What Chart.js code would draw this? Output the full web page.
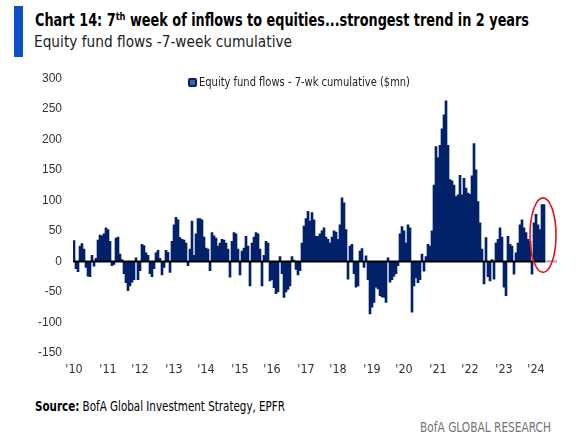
<!DOCTYPE html>
<html>
<head>
<meta charset="utf-8">
<script src="https://cdn.jsdelivr.net/npm/chart.js@4.4.1/dist/chart.umd.min.js"></script>
<style>
  body { margin: 0; width: 579px; height: 439px; background: #fff; position: relative; overflow: hidden;
         font-family: "DejaVu Sans Condensed", "Liberation Sans", sans-serif; }
  .txt { position: absolute; white-space: nowrap; transform-origin: 0 0; }
  .accent { position: absolute; left: 14px; top: 6px; width: 9px; height: 51px; background: #0b52c9; }
  .title { left: 35px; top: 12.2px; font-size: 17px; line-height: 17px; font-weight: bold; color: #000; }
  .title sup { font-size: 11px; line-height: 0; vertical-align: 6px; }
  .subtitle { left: 34px; top: 34.6px; font-size: 15px; line-height: 15px; color: #222; }
  .marker { position: absolute; left: 188px; top: 78px; width: 5px; height: 5px; background: #3d63ad; border: 2px solid #012169; border-radius: 2px; }
  .legend { left: 199px; top: 77px; font-size: 11.5px; line-height: 11.5px; color: #222; }
  .source { left: 35px; top: 400.4px; font-size: 13.5px; line-height: 13.5px; color: #000; }
  .brand { left: 420px; top: 421.4px; font-size: 13.5px; line-height: 13.5px; color: #757575; }
  .wrap { position: absolute; left: 0; top: 60px; width: 579px; height: 323px; }
</style>
</head>
<body>
<div class="accent"></div>
<div class="txt title" data-fit="494">Chart 14: 7<sup>th</sup> week of inflows to equities...strongest trend in 2 years</div>
<div class="txt subtitle" data-fit="258">Equity fund flows -7-week cumulative</div>
<div class="wrap"><canvas id="flowChart"></canvas></div>
<div class="marker"></div>
<div class="txt legend" data-fit="211" id="legendText"></div>
<div class="txt source" data-fit="250"><b>Source:</b> BofA Global Investment Strategy, EPFR</div>
<div class="txt brand" data-fit="131">BofA GLOBAL RESEARCH</div>
<script>
// equity fund flows, 7-week cumulative ($mn) at roughly 3-week steps
const flows2010_2012 = [34, -12, -17, 25, 29, 20, -10, -24, -25, 10,
  -8, 5, 35, 43, 42, 45, 55, 52, 33, -7,
  -5, 38, 40, 12, 3, -20, -35, -48, -40, -34,
  -30, 6, -30, -15, 28, 26, 14, 10, -20, -25];
const flows2013_2015 = [-12, 14, 18, 5, -22, -10, 18, 15, -18, 33,
  60, 72, 68, 39, 36, 35, 30, -7, 20, 66,
  10, 45, 70, 70, 68, 40, 22, 20, -15, 47,
  42, 38, 25, 30, 36, 35, 30, 20, -26, 33];
const flows2016_2018 = [47, 45, 20, -22, 17, 22, 41, 25, -40, 30,
  40, 47, 45, 20, -40, 10, 33, 30, -32, -30,
  -43, -53, -50, 8, -20, -59, -50, -46, -40, 8,
  2, -13, -22, -15, 30, 58, 70, 82, 66, 80,
  68, 41, 41, 45, 50, 55, 40, 36, 30, 40,
  50, 48, 36, 60, 104, 96, 52, -29, 25, 28];
const flows2019_2021 = [-20, -42, -40, 17, 21, -10, 9, -30, -86, -75,
  -67, -42, -45, -56, -58, -59, -67, 6, -34, -30,
  -24, -20, -7, 45, 57, 50, 30, 60, 55, -83,
  -40, -27, -35, -30, 12, -16, 8, 28, 25, 50,
  125, 188, 170, 190, 217, 240, 263, 190, 134, 132,
  125, 106, 109, 141, 109, 136, 120, 112, 110, 140];
const flows2022_2024 = [193, 150, 98, 63, 20, -37, 39, -25, -32, 3,
  -29, 30, 36, 55, 40, -42, -56, 41, 28, 25,
  -21, 14, 30, 60, 68, 55, 47, 36, 33, -21,
  63, 77, 60, 52, 93, 93];
const flows = [].concat(flows2010_2012, flows2013_2015, flows2016_2018, flows2019_2021, flows2022_2024);

const yearLabels = ["'10", "'11", "'12", "'13", "'14", "'15", "'16", "'17", "'18", "'19", "'20", "'21", "'22", "'23", "'24"];
const seriesName = "Equity fund flows - 7-wk cumulative ($mn)";

document.getElementById("legendText").textContent = seriesName;

// squeeze the html text to the widths of the condensed font used in the original
document.querySelectorAll("[data-fit]").forEach(el => {
  const w = +el.dataset.fit;
  el.style.transform = "scaleX(" + (w / el.getBoundingClientRect().width) + ")";
});

// one slot is ~3 weeks, so a year is ~16.5 slots; a few empty slots after the series
const tailPad = 6, slotsPerYear = 16.53;
const values = flows.concat(Array(tailPad).fill(null));
const labels = values.map(() => "");
yearLabels.forEach((t, k) => { labels[Math.round(k * slotsPerYear)] = t; });

const lastIdx = flows.length - 1;

const overlay = {
  id: "overlay",
  afterDatasetsDraw(chart) {
    const { ctx, chartArea, scales: { x, y } } = chart;
    const half = (x.getPixelForValue(1) - x.getPixelForValue(0)) / 2;
    const y0 = y.getPixelForValue(0);
    const xs = x.getPixelForValue(0) - half;
    const xe = x.getPixelForValue(lastIdx) + half;
    ctx.save();
    ctx.lineWidth = 2;
    ctx.strokeStyle = "#a6a6a6";
    ctx.beginPath(); ctx.moveTo(xe, y0); ctx.lineTo(chartArea.right, y0); ctx.stroke();
    ctx.strokeStyle = "#000";
    ctx.beginPath(); ctx.moveTo(xs, y0); ctx.lineTo(xe, y0); ctx.stroke();
    // red ring round the latest weeks
    const l = x.getPixelForValue(lastIdx - 7), r = x.getPixelForValue(lastIdx + 6);
    const t = y.getPixelForValue(104), b = y.getPixelForValue(-18);
    ctx.strokeStyle = "#e3141b";
    ctx.lineWidth = 1.6;
    ctx.beginPath();
    ctx.ellipse((l + r) / 2, (t + b) / 2, (r - l) / 2, (b - t) / 2, 0, 0, Math.PI * 2);
    ctx.stroke();
    ctx.restore();
  }
};

new Chart(document.getElementById("flowChart"), {
  type: "bar",
  data: {
    labels: labels,
    datasets: [{
      label: seriesName,
      data: values,
      backgroundColor: "#012169",
      borderWidth: 0,
      barPercentage: 1,
      categoryPercentage: 1
    }]
  },
  options: {
    responsive: true,
    maintainAspectRatio: false,
    animation: false,
    layout: { padding: { top: 16, right: 22, bottom: 0, left: 0 } },
    plugins: { legend: { display: false }, tooltip: { enabled: false } },
    scales: {
      x: {
        grid: { display: false, drawTicks: false },
        border: { display: false },
        ticks: {
          autoSkip: false, maxRotation: 0, minRotation: 0, padding: 9,
          color: "#333", font: { family: "'DejaVu Sans Condensed', sans-serif", size: 12.5 },
          callback: (v, i) => labels[i]
        },
        afterFit: (scale) => { scale.height = 30; }
      },
      y: {
        min: -150, max: 300,
        grid: { display: false, drawTicks: false },
        border: { display: false },
        ticks: { stepSize: 50, padding: 11, color: "#333", font: { family: "'Liberation Sans', Arial, sans-serif", size: 12 } },
        afterFit: (scale) => { scale.width = 73; }
      }
    }
  },
  plugins: [overlay]
});
</script>
</body>
</html>
